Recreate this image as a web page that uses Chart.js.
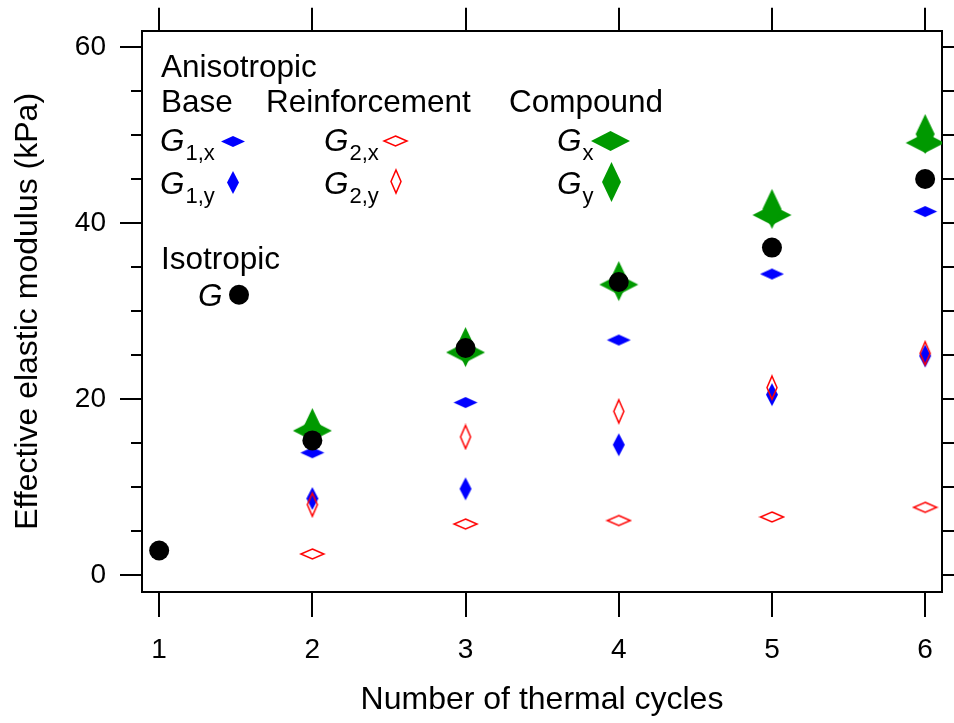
<!DOCTYPE html>
<html>
<head>
<meta charset="utf-8">
<script src="https://cdn.jsdelivr.net/npm/chart.js@4/dist/chart.umd.min.js"></script>
<style>
  html, body { margin: 0; padding: 0; background: #fff; }
  #wrap { width: 954px; height: 723px; }
</style>
</head>
<body>
<div id="wrap"><canvas id="c" width="954" height="723"></canvas></div>
<script>
// Effective elastic modulus (kPa) versus number of thermal cycles
const cycles = [1, 2, 3, 4, 5, 6];
const isoG  = [2.8, 15.3, 25.8, 33.3, 37.2, 45.0];   // isotropic G
const baseGx = [null, 13.9, 19.6, 26.7, 34.2, 41.3];  // G1,x
const baseGy = [null, 8.7, 9.8, 14.8, 20.5, 24.9];    // G1,y
const reinfGx = [null, 2.4, 5.8, 6.2, 6.6, 7.7];      // G2,x
const reinfGy = [null, 8.0, 15.7, 18.6, 21.3, 25.2];  // G2,y
const compGx = [null, 16.4, 25.3, 33.0, 40.9, 49.1];  // Gx
const compGy = [null, 16.7, 25.9, 33.4, 41.6, 50.1];  // Gy

const xTickValues = [1, 2, 3, 4, 5, 6];
const yMajorTicks = [0, 20, 40, 60];
const yMinorTicks = [0, 5, 10, 15, 20, 25, 30, 35, 40, 45, 50, 55, 60];

const FONT = "'Liberation Sans', Arial, sans-serif";
const BLUE = '#0000ff', RED = '#ff0000', GREEN = '#009900';
const KEY_SIZE = 31.5;

Chart.defaults.font.family = FONT;
Chart.defaults.color = '#000';

// diamond-shaped marker images
function diamond(w, h, fill, stroke, lw) {
  const pad = 2;
  const c = document.createElement('canvas');
  c.width = w + 2 * pad; c.height = h + 2 * pad;
  const g = c.getContext('2d');
  const cx = c.width / 2, cy = c.height / 2;
  g.beginPath();
  g.moveTo(cx, cy - h / 2);
  g.lineTo(cx + w / 2, cy);
  g.lineTo(cx, cy + h / 2);
  g.lineTo(cx - w / 2, cy);
  g.closePath();
  if (fill) { g.fillStyle = fill; g.fill(); }
  if (stroke) { g.strokeStyle = stroke; g.lineWidth = lw; g.stroke(); }
  return c;
}
const mk = {
  g1x: diamond(24, 11, BLUE),
  g1y: diamond(12, 23, BLUE),
  g2x: diamond(23, 10, null, RED, 1.5),
  g2y: diamond(10, 23, null, RED, 1.5),
  gx: diamond(39, 20, GREEN),
  gy: diamond(19, 40, GREEN)
};

function pts(vals) {
  const out = [];
  vals.forEach((v, i) => { if (v !== null) out.push({ x: cycles[i], y: v }); });
  return out;
}
function ds(label, vals, style, order) {
  return { label, data: pts(vals), pointStyle: style, pointRadius: 10, order,
           backgroundColor: 'rgba(0,0,0,0)', borderColor: 'rgba(0,0,0,0)', showLine: false };
}

const datasets = [
  { label: 'G', data: pts(isoG), pointStyle: 'circle', pointRadius: 10, borderWidth: 0,
    backgroundColor: '#000', borderColor: '#000', order: 0, showLine: false },
  ds('G2,y', reinfGy, mk.g2y, 1),
  ds('G2,x', reinfGx, mk.g2x, 2),
  ds('G1,y', baseGy, mk.g1y, 3),
  ds('G1,x', baseGx, mk.g1x, 4),
  ds('Gy', compGy, mk.gy, 5),
  ds('Gx', compGx, mk.gx, 6)
];

const X_MIN = 0.888, X_MAX = 6.11;
const Y_MIN = -1.92, Y_MAX = 61.83;

function fixedTicks(values) {
  return scale => { scale.ticks = values.map(v => ({ value: v })); };
}
const frame = { display: true, color: '#000', width: 2 };
function grid(len) {
  return { display: true, drawOnChartArea: false, drawTicks: true, tickLength: len,
           tickWidth: 2, tickColor: '#000', color: '#000', lineWidth: 2 };
}

// legend block drawn inside the plot area
const keyPlugin = {
  id: 'keyBlock',
  afterDatasetsDraw(chart) {
    const ctx = chart.ctx, a = chart.chartArea;
    const L = a.left, T = a.top;
    ctx.save();
    ctx.fillStyle = '#000';
    ctx.textAlign = 'left';
    ctx.textBaseline = 'alphabetic';
    ctx.font = KEY_SIZE + 'px ' + FONT;
    ctx.fillText('Anisotropic', L + 19, T + 46);
    ctx.fillText('Base', L + 19, T + 81);
    ctx.fillText('Reinforcement', L + 124, T + 81);
    ctx.fillText('Compound', L + 367, T + 81);
    ctx.fillText('Isotropic', L + 19, T + 238);

    function symbol(x, y, sub) {
      ctx.font = 'italic ' + KEY_SIZE + 'px ' + FONT;
      ctx.fillText('G', x, y);
      const w = ctx.measureText('G').width;
      if (sub) {
        ctx.font = '22px ' + FONT;
        ctx.fillText(sub, x + w + 1, y + 9);
      }
    }
    symbol(L + 18, T + 120, '1,x');
    symbol(L + 18, T + 163, '1,y');
    symbol(L + 182, T + 120, '2,x');
    symbol(L + 182, T + 163, '2,y');
    symbol(L + 415, T + 120, 'x');
    symbol(L + 415, T + 163, 'y');
    symbol(L + 56, T + 275, null);

    function img(c, x, y) { ctx.drawImage(c, Math.round(x - c.width / 2), Math.round(y - c.height / 2)); }
    img(mk.g1x, L + 91, T + 110.5);
    img(mk.g1y, L + 91, T + 152);
    img(mk.g2x, L + 253, T + 110.5);
    img(mk.g2y, L + 253.5, T + 151);
    img(mk.gx, L + 468.5, T + 110.5);
    img(mk.gy, L + 469, T + 151);
    ctx.beginPath();
    ctx.arc(L + 97, T + 264, 10, 0, Math.PI * 2);
    ctx.fill();
    ctx.restore();
  }
};

new Chart(document.getElementById('c'), {
  type: 'scatter',
  data: { datasets },
  plugins: [keyPlugin],
  options: {
    responsive: false,
    animation: false,
    layout: { padding: 0, autoPadding: false },
    plugins: { legend: { display: false }, tooltip: { enabled: false } },
    scales: {
      x: {
        type: 'linear', position: 'bottom', min: X_MIN, max: X_MAX,
        afterBuildTicks: fixedTicks(xTickValues),
        ticks: { font: { size: 28 }, color: '#000', padding: 16, maxRotation: 0, autoSkip: false,
                 callback: v => String(v) },
        grid: grid(25), border: frame,
        title: { display: true, text: 'Number of thermal cycles', font: { size: 32 }, color: '#000',
                 padding: { top: 0, bottom: 4 } },
        afterFit: s => { s.height = 131; }
      },
      xTop: {
        type: 'linear', position: 'top', min: X_MIN, max: X_MAX,
        afterBuildTicks: fixedTicks(xTickValues),
        ticks: { display: false },
        grid: grid(23), border: frame,
        afterFit: s => { s.height = 27; }
      },
      y: {
        type: 'linear', position: 'left', min: Y_MIN, max: Y_MAX, weight: 1,
        afterBuildTicks: fixedTicks(yMajorTicks),
        ticks: { font: { size: 28 }, color: '#000', padding: 14, callback: v => String(v) },
        grid: grid(22), border: frame,
        title: { display: true, text: 'Effective elastic modulus (kPa)', font: { size: 32 }, color: '#000',
                 padding: { top: 9, bottom: 0 } },
        afterFit: s => { s.width = 142; }
      },
      yMinor: {
        type: 'linear', position: 'left', min: Y_MIN, max: Y_MAX, weight: 0,
        afterBuildTicks: fixedTicks(yMinorTicks),
        ticks: { display: false },
        grid: grid(11), border: { display: false },
        afterFit: s => { s.width = 0; }
      },
      yRight: {
        type: 'linear', position: 'right', min: Y_MIN, max: Y_MAX,
        afterBuildTicks: fixedTicks(yMinorTicks),
        ticks: { display: false },
        grid: grid(12), border: frame,
        afterFit: s => { s.width = 12; }
      }
    }
  }
});
</script>
</body>
</html>
